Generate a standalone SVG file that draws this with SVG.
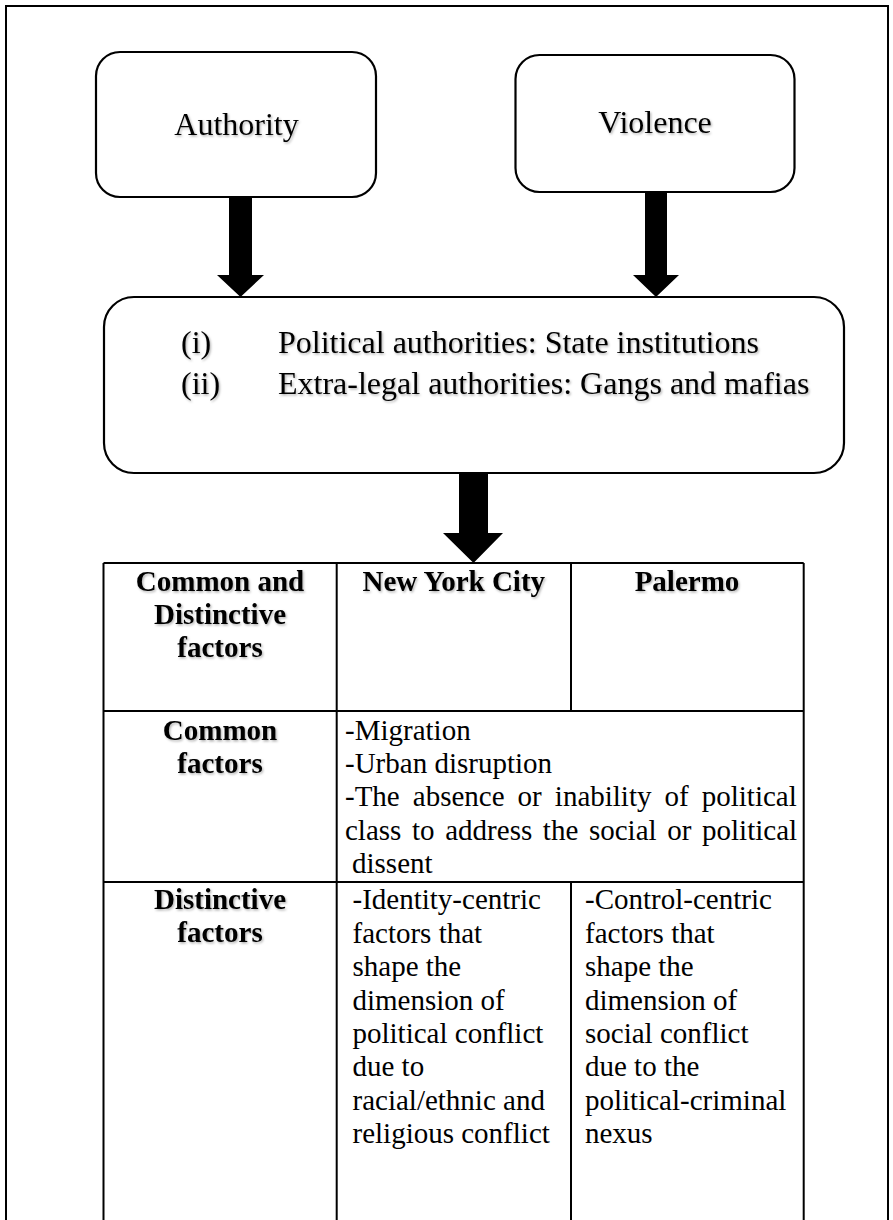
<svg xmlns="http://www.w3.org/2000/svg" width="893" height="1220" viewBox="0 0 893 1220">
<defs>
<filter id="sh" x="-10%" y="-30%" width="130%" height="180%">
<feDropShadow dx="1.2" dy="1.5" stdDeviation="1" flood-color="#000" flood-opacity="0.3"/>
</filter>
</defs>
<style>
.box{fill:#fff;stroke:#000;stroke-width:2.2}
.ln{stroke:#000;stroke-width:2;fill:none}
.t{font-family:"Liberation Serif","Times New Roman",serif;fill:#000}
.big{font-size:32px}
.b{font-size:29px;font-weight:bold}
.r{font-size:29px}
.sh{filter:url(#sh)}
.arr{fill:#000}
</style>
<rect width="893" height="1220" fill="#fff"/>
<path class="ln" d="M6,1222 V6 H888 V1222"/>

<g id="authority">
<rect class="box" x="96" y="52" width="280" height="145" rx="24"/>
<text class="t big sh" x="236.5" y="135" text-anchor="middle">Authority</text>
</g>

<g id="violence">
<rect class="box" x="515.5" y="55" width="279" height="137" rx="24"/>
<text class="t big sh" x="655" y="133" text-anchor="middle">Violence</text>
</g>

<g id="authorities">
<rect class="box" x="104" y="297" width="740" height="176" rx="30"/>
<text class="t big sh" x="181" y="353">(i)</text>
<text class="t big sh" x="278" y="353">Political authorities: State institutions</text>
<text class="t big sh" x="181" y="394">(ii)</text>
<text class="t big sh" x="278" y="394">Extra-legal authorities: Gangs and mafias</text>
</g>

<g id="connectors">
<polygon class="arr" points="229,197 252,197 252,275 264,275 240.5,297 217,275 229,275"/>
<polygon class="arr" points="645,192 667,192 667,275 679,275 656,297 633,275 645,275"/>
<polygon class="arr" points="459,473 488,473 488,533 503,533 473.5,563 443,533 459,533"/>
</g>

<g id="table">
<path class="ln" d="M103.5,563 H803.7 M103.5,711 H803.7 M103.5,882 H803.7 M103.5,563 V1222 M336.7,563 V1222 M803.7,563 V1222 M571,563 V711 M571,882 V1222"/>
<g id="header">
<text class="t b sh" text-anchor="middle" x="220" y="591">Common and</text>
<text class="t b sh" text-anchor="middle" x="220" y="624">Distinctive</text>
<text class="t b sh" text-anchor="middle" x="220" y="657">factors</text>
<text class="t b sh" text-anchor="middle" x="453.8" y="591">New York City</text>
<text class="t b sh" text-anchor="middle" x="687" y="591">Palermo</text>
</g>
<g id="common">
<text class="t b sh" text-anchor="middle" x="220" y="740">Common</text>
<text class="t b sh" text-anchor="middle" x="220" y="773">factors</text>
<text class="t r" x="345" y="739.5">-Migration</text>
<text class="t r" x="345" y="773">-Urban disruption</text>
<text class="t r" x="345" y="806" word-spacing="5.8">-The absence or inability of political</text>
<text class="t r" x="345" y="840" word-spacing="3.4">class to address the social or political</text>
<text class="t r" x="352" y="873">dissent</text>
</g>
<g id="distinctive">
<text class="t b sh" text-anchor="middle" x="220" y="909">Distinctive</text>
<text class="t b sh" text-anchor="middle" x="220" y="942">factors</text>
<text class="t r" x="352.5" y="909">-Identity-centric</text>
<text class="t r" x="352.5" y="943">factors that</text>
<text class="t r" x="352.5" y="976">shape the</text>
<text class="t r" x="352.5" y="1010">dimension of</text>
<text class="t r" x="352.5" y="1043">political conflict</text>
<text class="t r" x="352.5" y="1076">due to</text>
<text class="t r" x="352.5" y="1110">racial/ethnic and</text>
<text class="t r" x="352.5" y="1143">religious conflict</text>
<text class="t r" x="585" y="909">-Control-centric</text>
<text class="t r" x="585" y="943">factors that</text>
<text class="t r" x="585" y="976">shape the</text>
<text class="t r" x="585" y="1010">dimension of</text>
<text class="t r" x="585" y="1043">social conflict</text>
<text class="t r" x="585" y="1076">due to the</text>
<text class="t r" x="585" y="1110">political-criminal</text>
<text class="t r" x="585" y="1143">nexus</text>
</g>
</g>
</svg>
